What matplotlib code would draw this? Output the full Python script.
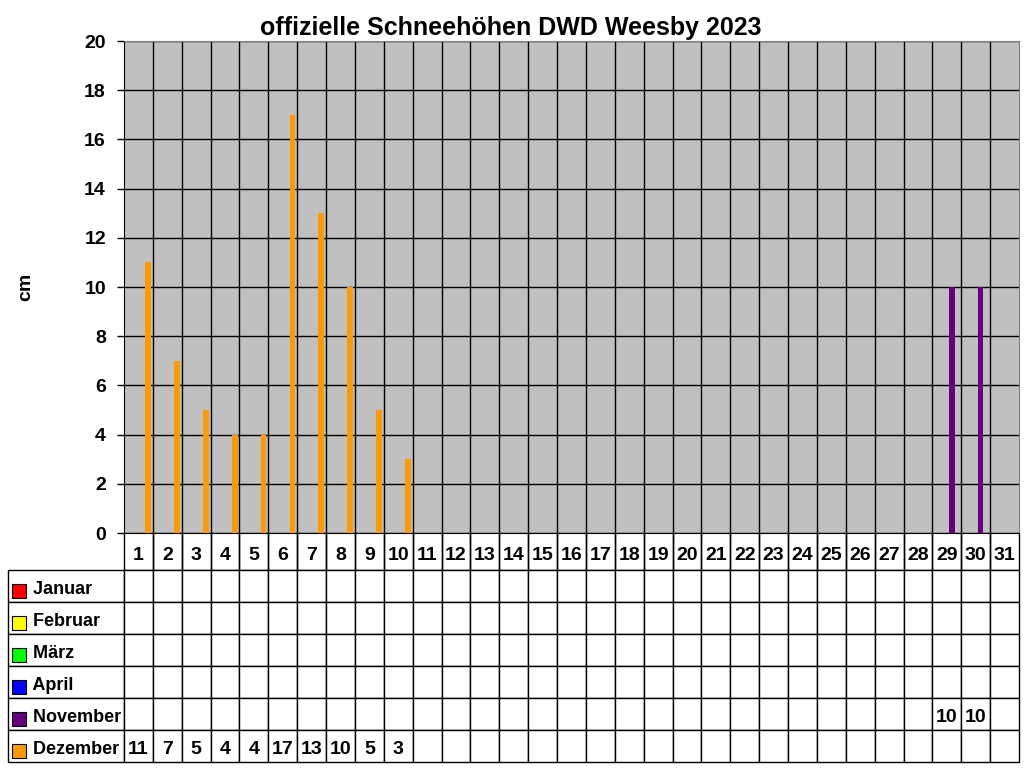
import numpy as np
import matplotlib.pyplot as plt
from matplotlib.table import Table
from matplotlib.patches import Rectangle
from matplotlib.transforms import Affine2D

plt.rcParams['font.family'] = ['Liberation Sans', 'DejaVu Sans']
plt.rcParams['font.weight'] = 'bold'

days = list(range(1, 32))
months = ["Januar", "Februar", "März", "April", "November", "Dezember"]
colors = ["#FF0000", "#FFFF00", "#00FF00", "#0000FF", "#660080", "#FF9900"]

# snow depth in cm per day (None = no value)
januar = [None] * 31
februar = [None] * 31
maerz = [None] * 31
april = [None] * 31
november = [None] * 28 + [10, 10, None]
dezember = [11, 7, 5, 4, 4, 17, 13, 10, 5, 3] + [None] * 21
series = [januar, februar, maerz, april, november, dezember]

W, H = 1024, 768
fig = plt.figure(figsize=(W / 100, H / 100), dpi=100)
x0, x1, y_top, y_bot = 124, 1019, 41, 533
ax = fig.add_axes([x0 / W, 1 - y_bot / H, (x1 - x0) / W, (y_bot - y_top) / H])
ax.set_facecolor("#C0C0C0")

x = np.array(days)
bw = 0.2
for i, (vals, c) in enumerate(zip(series, colors)):
    v = np.array([np.nan if a is None else a for a in vals], dtype=float)
    ax.bar(x - 0.5 + i * 0.167, v, width=bw, color=c, zorder=3)

ax.set_xlim(0.5, 31.5)
ax.set_ylim(0, 20)
ax.set_yticks(range(0, 21, 2))
ax.set_xticks(np.arange(1.5, 31, 1))
ax.tick_params(axis="x", length=0, labelbottom=False)
ax.tick_params(axis="y", labelsize=14, length=5, width=1, pad=8)
ax.grid(True, color="black", linewidth=1, zorder=1)
ax.set_axisbelow(True)
for s in ["top", "right"]:
    ax.spines[s].set_color("#808080")
ax.spines["left"].set_color("black")
ax.spines["bottom"].set_color("black")
fig.text(26 / W, 1 - 287 / H, "cm", rotation=90, fontsize=14,
         fontweight="bold", ha="center", va="center")
fig.text(511 / W, 1 - 28.5 / H, "offizielle Schneehöhen DWD Weesby 2023",
         fontsize=18, fontweight="bold", ha="center", va="center")

# data table below the chart
tb = Table(ax, bbox=[(8 - x0) / (x1 - x0), -(762 - y_bot) / (y_bot - y_top),
                     (x1 - 8) / (x1 - x0), (762 - y_bot) / (y_bot - y_top)])
lab_w, day_w = 116, (x1 - x0) / 31
head_h, row_h = 37, 32
c = tb.add_cell(0, 0, lab_w, head_h, text="")
c.visible_edges = ""
for j, d in enumerate(days):
    c = tb.add_cell(0, j + 1, day_w, head_h, text=str(d), loc="center")
    c.visible_edges = "BLR"
for r, (m, vals) in enumerate(zip(months, series)):
    c = tb.add_cell(r + 1, 0, lab_w, row_h, text="    " + m, loc="left")
    for j, v in enumerate(vals):
        tb.add_cell(r + 1, j + 1, day_w, row_h,
                    text="" if v is None else str(v), loc="center")
tb.auto_set_font_size(False)
tb.set_fontsize(14)
for (r, col), cell in tb.get_celld().items():
    cell.set_linewidth(1)
    cell.PAD = 0.02
    t = cell.get_text()
    t.set_fontweight("bold")
    t.set_transform(Affine2D().translate(0, -4))
    if col == 0:
        t.set_fontsize(13)
        cell.PAD = 0.04
ax.add_table(tb)

# legend keys in the row labels
for r, c in enumerate(colors):
    yc = 570 + r * row_h + row_h / 2 + 5
    fig.patches.append(Rectangle((12 / W, 1 - (yc + 7) / H), 14 / W, 14 / H,
                                 transform=fig.transFigure, facecolor=c,
                                 edgecolor="black", linewidth=0.8))

fig.savefig("out.png", dpi=100)
